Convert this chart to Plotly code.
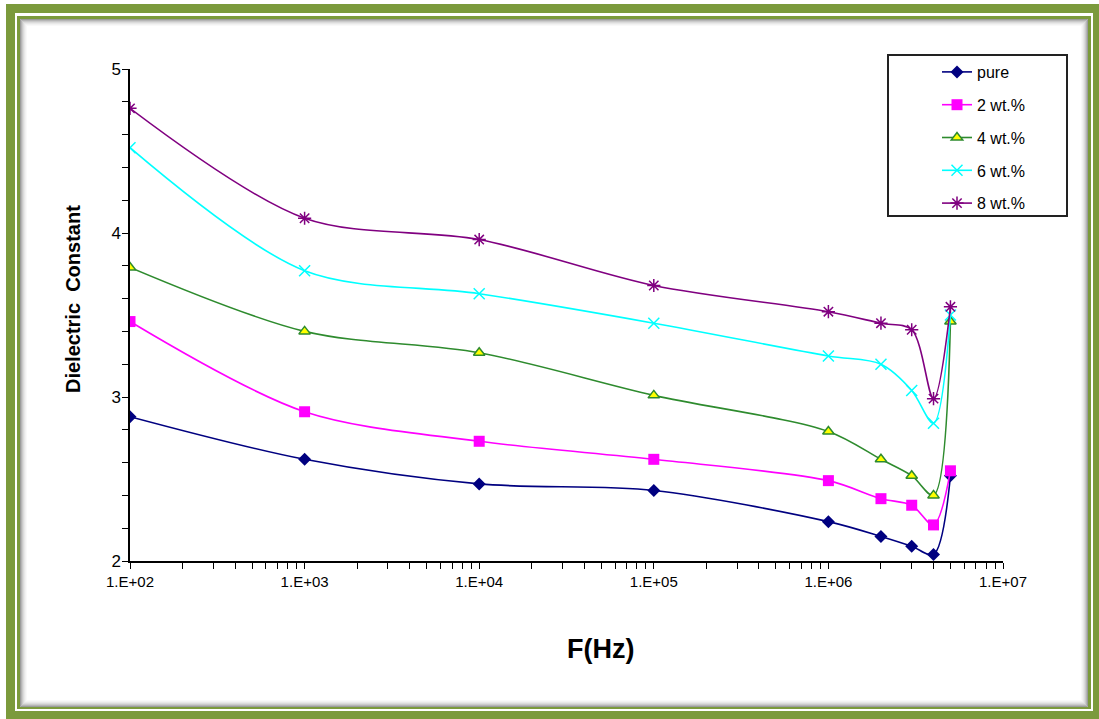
import plotly.graph_objects as go

# Frequency (Hz) and dielectric constant for each filler loading
freq = [1e2, 1e3, 1e4, 1e5, 1e6, 2e6, 3e6, 4e6, 5e6]
pure = [2.88, 2.62, 2.47, 2.43, 2.24, 2.15, 2.09, 2.04, 2.52]
wt2 = [3.46, 2.91, 2.73, 2.62, 2.49, 2.38, 2.34, 2.22, 2.55]
wt4 = [3.79, 3.40, 3.27, 3.01, 2.79, 2.62, 2.52, 2.40, 3.46]
wt6 = [4.52, 3.77, 3.63, 3.45, 3.25, 3.20, 3.04, 2.84, 3.50]
wt8 = [4.76, 4.09, 3.96, 3.68, 3.52, 3.45, 3.41, 2.99, 3.55]

series_names = ["pure", "2 wt.%", "4 wt.%", "6 wt.%", "8 wt.%"]
x_tickvals = [1e2, 1e3, 1e4, 1e5, 1e6, 1e7]
x_ticktext = ["1.E+02", "1.E+03", "1.E+04", "1.E+05", "1.E+06", "1.E+07"]
y_tickvals = [2, 3, 4, 5]

W, H = 1099, 719
L, R, T, B = 130, 1003, 69, 561  # plot area edges in pixels
FONT = "Liberation Sans, Arial"


def px(x):
    return (x - L) / (R - L)


def py(y):
    return (B - y) / (B - T)


styles = [
    dict(line=dict(color="#000080", width=1.6),
         marker=dict(symbol="diamond", size=10, color="#000080")),
    dict(line=dict(color="#FF00FF", width=1.6),
         marker=dict(symbol="square", size=11, color="#FF00FF")),
    dict(line=dict(color="#2E8B2E", width=1.6),
         marker=dict(symbol="triangle-up", size=10, color="#FFFF00",
                     line=dict(color="#2E8B2E", width=1.5))),
    dict(line=dict(color="#00FFFF", width=1.6),
         marker=dict(symbol="x-thin-open", size=11, color="#00FFFF",
                     line=dict(color="#00FFFF", width=1.5))),
    dict(line=dict(color="#800080", width=1.6),
         marker=dict(symbol="asterisk-open", size=11, color="#800080",
                     line=dict(color="#800080", width=1.5))),
]

fig = go.Figure()
for name, vals, st in zip(series_names, [pure, wt2, wt4, wt6, wt8], styles):
    fig.add_trace(go.Scatter(
        x=freq, y=vals, name=name, mode="lines+markers",
        line=dict(shape="spline", smoothing=0.9, **st["line"]),
        marker=st["marker"], legendgroup=name,
    ))

shapes = []
# Olive double frame around the figure
shapes.append(dict(type="rect", xref="paper", yref="paper", layer="below",
                   x0=px(6), x1=px(1099), y0=py(4), y1=py(719),
                   fillcolor="#7B9A3C", line=dict(width=0)))
shapes.append(dict(type="rect", xref="paper", yref="paper", layer="below",
                   x0=px(15), x1=px(1093), y0=py(13), y1=py(711),
                   fillcolor="white", line=dict(width=0)))
shapes.append(dict(type="rect", xref="paper", yref="paper", layer="below",
                   x0=px(17), x1=px(1091), y0=py(16), y1=py(709),
                   fillcolor="#7B9A3C", line=dict(width=0)))
shapes.append(dict(type="rect", xref="paper", yref="paper", layer="below",
                   x0=px(20), x1=px(1088), y0=py(19), y1=py(707),
                   fillcolor="white", line=dict(width=0)))
# Soft inner shadow along the frame
for i, op in enumerate([0.6, 0.45, 0.32, 0.22, 0.14, 0.08, 0.04]):
    shapes.append(dict(type="rect", xref="paper", yref="paper", layer="below",
                       x0=px(20.5 + i), x1=px(1087.5 - i),
                       y0=py(19.5 + i), y1=py(706.5 - i),
                       fillcolor="rgba(0,0,0,0)",
                       line=dict(color=f"rgba(90,90,90,{op})", width=1)))
# Legend box
shapes.append(dict(type="rect", xref="paper", yref="paper", layer="below",
                   x0=px(888), x1=px(1067), y0=py(55), y1=py(216),
                   fillcolor="white", line=dict(color="#222222", width=2)))

annotations = [
    dict(text="<b>F(Hz)</b>", xref="paper", yref="paper",
         x=px(600), y=py(649), xanchor="center", yanchor="middle",
         showarrow=False,
         font=dict(family=FONT, size=27, color="black")),
    dict(text="<b>Dielectric  Constant</b>", xref="paper", yref="paper",
         x=px(73), y=py(299), xanchor="center", yanchor="middle",
         showarrow=False, textangle=-90,
         font=dict(family=FONT, size=20, color="black")),
]

minor_x = [m * 10 ** d for d in range(2, 7) for m in range(2, 10)]

fig.update_layout(
    width=W, height=H,
    margin=dict(l=L, r=W - R, t=T, b=H - B),
    paper_bgcolor="white", plot_bgcolor="rgba(0,0,0,0)",
    shapes=shapes, annotations=annotations,
    font=dict(family=FONT, color="black"),
    showlegend=True,
    legend=dict(x=px(937), y=py(55), xanchor="left", yanchor="top",
                bgcolor="rgba(0,0,0,0)", borderwidth=0,
                tracegroupgap=9, traceorder="grouped",
                font=dict(family=FONT, size=16, color="black")),
    xaxis=dict(type="log", range=[2, 7], tickmode="array",
               tickvals=x_tickvals, ticktext=x_ticktext,
               showgrid=False, zeroline=False, showline=True,
               linecolor="black", linewidth=1.5,
               ticks="outside", ticklen=6, tickwidth=1.2, tickcolor="black",
               tickfont=dict(size=15),
               minor=dict(tickvals=minor_x, ticks="outside", ticklen=6,
                          tickwidth=1.2, tickcolor="black", showgrid=False)),
    yaxis=dict(range=[2, 5], tickmode="array", tickvals=y_tickvals,
               showgrid=False, zeroline=False, showline=True,
               linecolor="black", linewidth=1.5,
               ticks="outside", ticklen=6, tickwidth=1.2, tickcolor="black",
               tickfont=dict(size=17), ticklabelstandoff=-2,
               minor=dict(dtick=0.2, tick0=2, ticks="outside", ticklen=6,
                          tickwidth=1.2, tickcolor="black", showgrid=False)),
)

fig.write_html("out.html")
